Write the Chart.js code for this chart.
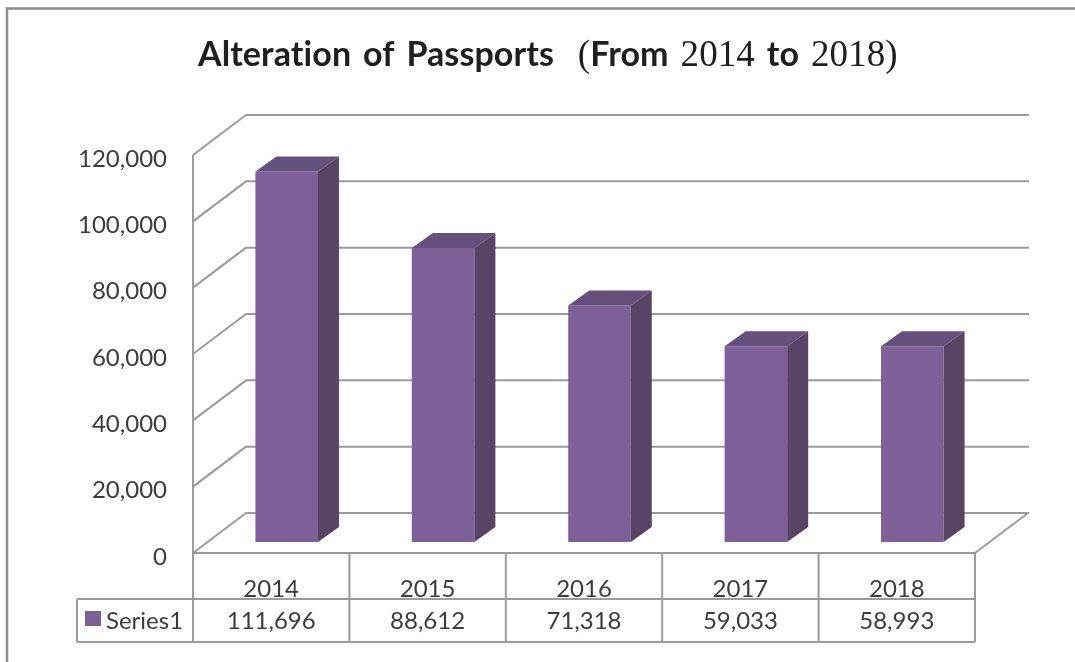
<!DOCTYPE html>
<html>
<head>
<meta charset="utf-8">
<title>Alteration of Passports</title>
<style>
  html, body { margin: 0; padding: 0; background: #fff; overflow: hidden; }
  canvas { display: block; }
</style>
<script src="https://cdn.jsdelivr.net/npm/chart.js@4"></script>
</head>
<body>
<canvas id="passportChart" width="1075" height="662"></canvas>
<script>
const years = ["2014", "2015", "2016", "2017", "2018"];
const seriesName = "Series1";
const alterations = [111696, 88612, 71318, 59033, 58993];
const yTicks = [0, 20000, 40000, 60000, 80000, 100000, 120000];

const fmt = n => n.toLocaleString("en-US");
const lineGrey = "#9b9b9b";
const textGrey = "#3c3c3c";

// fake 3D: how far the back wall and the bars sit from the front plane
const wall = { dx: 53, dy: -40 };
const barShift = { dx: 15.5, dy: -11 };
const barDepth = { dx: 21, dy: -15 };

function line(ctx, x1, y1, x2, y2) {
  ctx.beginPath();
  ctx.moveTo(x1, y1);
  ctx.lineTo(x2, y2);
  ctx.stroke();
}

function poly(ctx, pts, fill) {
  ctx.fillStyle = fill;
  ctx.beginPath();
  pts.forEach((p, i) => i ? ctx.lineTo(p[0], p[1]) : ctx.moveTo(p[0], p[1]));
  ctx.closePath();
  ctx.fill();
}

// walls and floor behind the bars
const wallsPlugin = {
  id: "walls",
  beforeDatasetsDraw(chart) {
    const { ctx, chartArea: a, scales: { y } } = chart;
    ctx.save();
    ctx.strokeStyle = lineGrey;
    ctx.lineWidth = 2;
    ctx.lineJoin = "round";
    yTicks.forEach(v => {
      const py = y.getPixelForValue(v);
      ctx.beginPath();
      ctx.moveTo(a.left, py);
      ctx.lineTo(a.left + wall.dx, py + wall.dy);
      ctx.lineTo(a.right + wall.dx + 1, py + wall.dy);
      ctx.stroke();
    });
    line(ctx, a.left, a.top, a.left, a.bottom);
    line(ctx, a.left, a.bottom, a.right, a.bottom);
    line(ctx, a.right, a.bottom, a.right + wall.dx, a.bottom + wall.dy);
    ctx.restore();
    // the library draws the front faces inside this shift
    ctx.save();
    ctx.translate(barShift.dx, barShift.dy);
  },
  afterDatasetsDraw(chart) {
    const { ctx } = chart;
    chart.getDatasetMeta(0).data.forEach(bar => {
      const { x, y, base, width } = bar.getProps(["x", "y", "base", "width"], true);
      const l = x - width / 2, r = x + width / 2;
      const d = barDepth;
      poly(ctx, [[r, y], [r + d.dx, y + d.dy], [r + d.dx, base + d.dy], [r, base]], "#584565");
      poly(ctx, [[l, y], [l + d.dx, y + d.dy], [r + d.dx, y + d.dy], [r, y]], "#654f7c");
    });
    ctx.restore();
  }
};

// data table under the axis, plus the outer frame and title
const tablePlugin = {
  id: "table",
  afterDraw(chart) {
    const { ctx, chartArea: a, scales: { x } } = chart;
    const rowTop = 599, rowBottom = 642, tableLeft = 77;
    const cell = (a.right - a.left) / years.length;
    ctx.save();
    ctx.strokeStyle = lineGrey;
    ctx.lineWidth = 2;
    for (let i = 0; i <= years.length; i++) {
      const px = a.left + cell * i;
      line(ctx, px, a.bottom, px, rowBottom);
    }
    line(ctx, tableLeft, rowTop, a.right, rowTop);
    line(ctx, tableLeft, rowBottom, a.right, rowBottom);
    line(ctx, tableLeft, rowTop, tableLeft, rowBottom);

    ctx.fillStyle = textGrey;
    ctx.font = "24px Lato";
    ctx.textBaseline = "middle";
    ctx.textAlign = "center";
    alterations.forEach((v, i) => ctx.fillText(fmt(v), x.getPixelForValue(i), 621));
    ctx.textAlign = "left";
    ctx.fillText(seriesName, 106, 621);
    ctx.fillStyle = "#7d6098";
    ctx.fillRect(85, 611, 16, 15);

    // outer frame
    ctx.strokeStyle = "#8c8c8c";
    ctx.lineWidth = 2.5;
    ctx.beginPath();
    ctx.moveTo(7, 662);
    ctx.lineTo(7, 8.5);
    ctx.lineTo(1075, 8.5);
    ctx.stroke();

    // title mixes a sans face with serif digits
    const sans = "bold 34px Lato", serif = "37px 'Liberation Serif'";
    const runs = [
      ["Alteration of Passports  ", sans], ["(", serif], ["From ", sans], ["2014", serif],
      [" to ", sans], ["2018", serif], [")", serif]
    ];
    ctx.fillStyle = "#1f1f1f";
    ctx.textBaseline = "alphabetic";
    ctx.letterSpacing = "0.1px"; // also keeps Lato from joining the "ti"
    ctx.wordSpacing = "3.5px";
    let tx = 198;
    runs.forEach(([s, font]) => {
      ctx.font = font;
      ctx.fillText(s, tx, 66);
      tx += ctx.measureText(s).width;
    });
    ctx.restore();
  }
};

new Chart(document.getElementById("passportChart"), {
  type: "bar",
  data: {
    labels: years,
    datasets: [{
      label: seriesName,
      data: alterations,
      backgroundColor: "#7d6098",
      categoryPercentage: 1,
      barPercentage: 0.4
    }]
  },
  options: {
    responsive: false,
    animation: false,
    layout: { padding: { top: 155, right: 100, left: 0, bottom: 0 } },
    plugins: { legend: { display: false }, title: { display: false }, tooltip: { enabled: false } },
    scales: {
      x: {
        grid: { display: false },
        border: { display: false },
        afterFit(scale) { scale.height = 109; },
        ticks: { color: textGrey, font: { family: "Lato", size: 24 }, padding: 14, maxRotation: 0 }
      },
      y: {
        min: 0,
        max: 120000,
        grid: { display: false },
        border: { display: false },
        afterFit(scale) { scale.width = 193; },
        afterBuildTicks(scale) { scale.ticks = yTicks.map(value => ({ value })); },
        ticks: { color: textGrey, font: { family: "Lato", size: 24 }, padding: 18, labelOffset: 4, callback: v => fmt(v) }
      }
    }
  },
  plugins: [wallsPlugin, tablePlugin]
});
</script>
</body>
</html>
